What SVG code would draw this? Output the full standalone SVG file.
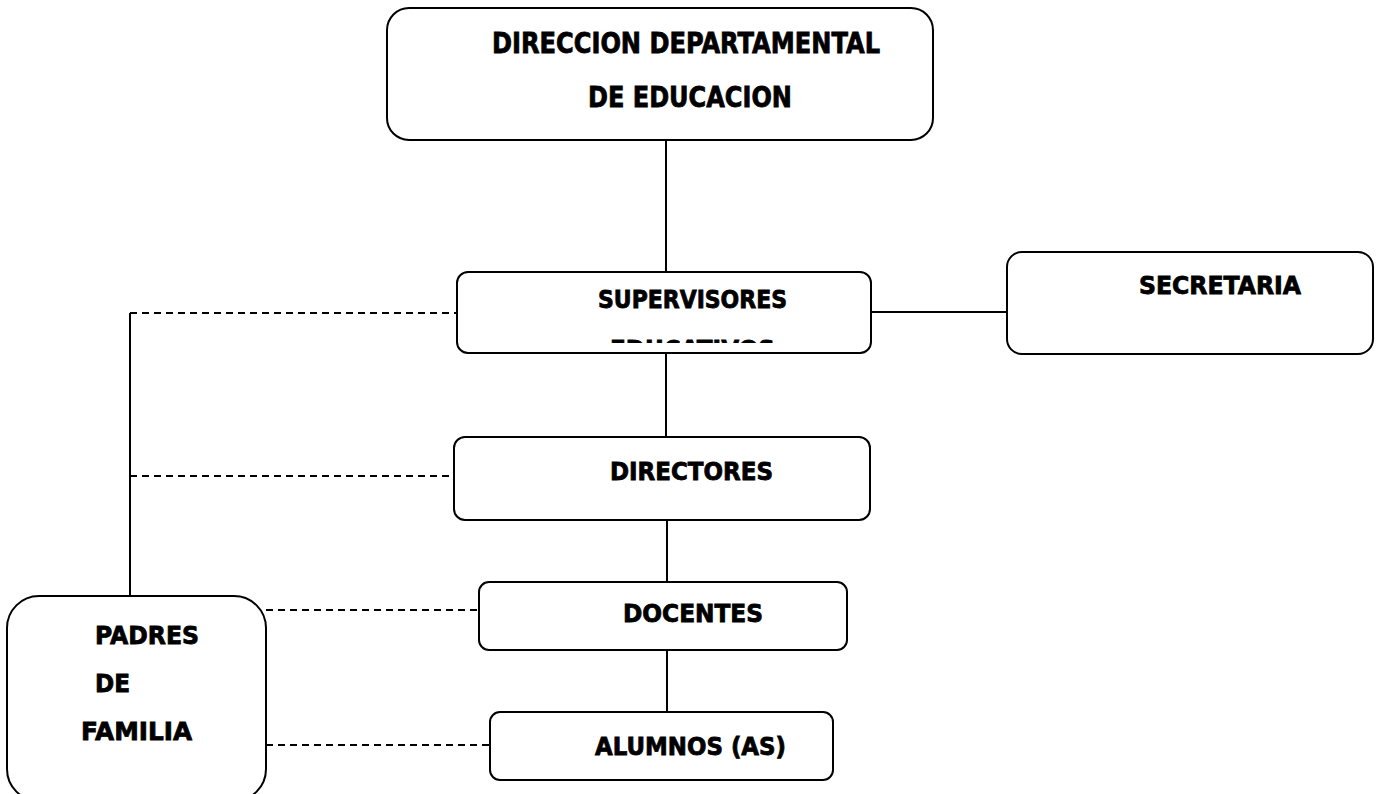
<svg xmlns="http://www.w3.org/2000/svg" width="1383" height="794" viewBox="0 0 1383 794">
<style>
.box{fill:#fff;stroke:#000;stroke-width:2}
.lbl{font-family:"DejaVu Sans","Liberation Sans",sans-serif;font-weight:bold;font-size:24px;fill:#000;stroke:#000;stroke-width:0.8}
.big{font-size:28px}
.solid{stroke:#000;stroke-width:2;fill:none}
.dash{stroke:#000;stroke-width:2;fill:none;stroke-dasharray:7 5}
</style>
<defs>
<clipPath id="supClip"><rect x="457" y="272" width="414" height="71"/></clipPath>
</defs>
<rect width="1383" height="794" fill="#fff"/>
<g id="connectors">
<line class="solid" x1="666" y1="140" x2="666" y2="272"/>
<line class="solid" x1="666" y1="353" x2="666" y2="437"/>
<line class="solid" x1="667" y1="520" x2="667" y2="582"/>
<line class="solid" x1="667" y1="650" x2="667" y2="712"/>
<line class="solid" x1="869" y1="312" x2="1007" y2="312"/>
<line class="solid" x1="130" y1="313" x2="130" y2="596"/>
<line class="dash" x1="130" y1="313" x2="457" y2="313"/>
<line class="dash" x1="130" y1="476" x2="455" y2="476"/>
<line class="dash" x1="266" y1="610" x2="479" y2="610"/>
<line class="dash" x1="266" y1="745" x2="490" y2="745"/>
</g>
<g id="direccion">
<rect class="box" x="387" y="8" width="546" height="132" rx="22"/>
<text class="lbl big" x="492" y="53" textLength="388" lengthAdjust="spacingAndGlyphs">DIRECCION DEPARTAMENTAL</text>
<text class="lbl big" x="588" y="107" textLength="204" lengthAdjust="spacingAndGlyphs">DE EDUCACION</text>
</g>
<g id="supervisores">
<rect class="box" x="457" y="272" width="414" height="81" rx="11"/>
<text class="lbl" x="598" y="308" textLength="189" lengthAdjust="spacingAndGlyphs">SUPERVISORES</text>
<text class="lbl" x="610" y="358" textLength="165" lengthAdjust="spacingAndGlyphs" clip-path="url(#supClip)">EDUCATIVOS</text>
</g>
<g id="secretaria">
<rect class="box" x="1007" y="252" width="366" height="102" rx="15"/>
<text class="lbl" x="1139" y="294" textLength="162" lengthAdjust="spacingAndGlyphs">SECRETARIA</text>
</g>
<g id="directores">
<rect class="box" x="454" y="437" width="416" height="83" rx="11"/>
<text class="lbl" x="610" y="480" textLength="163" lengthAdjust="spacingAndGlyphs">DIRECTORES</text>
</g>
<g id="docentes">
<rect class="box" x="479" y="582" width="368" height="68" rx="10"/>
<text class="lbl" x="623" y="622" textLength="140" lengthAdjust="spacingAndGlyphs">DOCENTES</text>
</g>
<g id="alumnos">
<rect class="box" x="490" y="712" width="343" height="68" rx="10"/>
<text class="lbl" x="595" y="755" textLength="191" lengthAdjust="spacingAndGlyphs">ALUMNOS (AS)</text>
</g>
<g id="padres">
<rect class="box" x="7" y="596" width="259" height="205" rx="32"/>
<text class="lbl" x="95" y="644" textLength="104" lengthAdjust="spacingAndGlyphs">PADRES</text>
<text class="lbl" x="95" y="692" textLength="35" lengthAdjust="spacingAndGlyphs">DE</text>
<text class="lbl" x="81" y="740" textLength="111" lengthAdjust="spacingAndGlyphs">FAMILIA</text>
</g>
</svg>
